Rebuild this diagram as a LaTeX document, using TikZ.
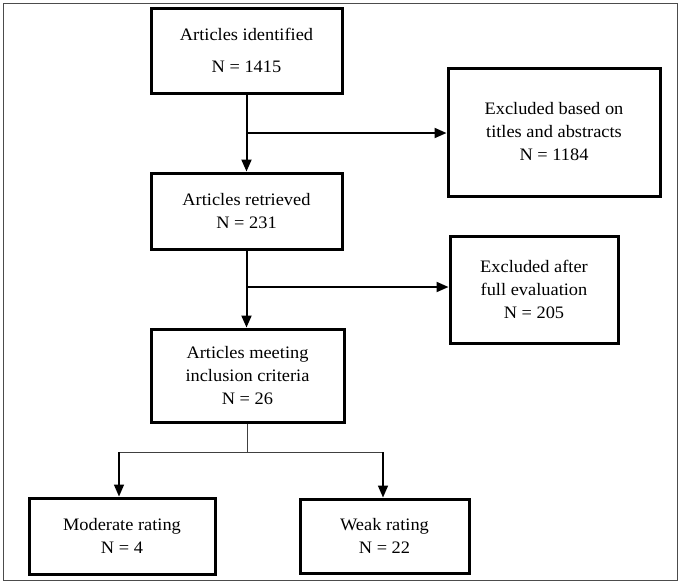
\documentclass[tikz,border=0pt]{standalone}
\usepackage{fontspec}
\setmainfont{Liberation Serif}[FakeStretch=1.05]
\usetikzlibrary{arrows.meta}
\begin{document}
\begin{tikzpicture}[x=1pt,y=-1pt,
  box/.style={draw, line width=3pt, rectangle, align=center, inner sep=0pt,
    font=\fontsize{17.5}{23}\selectfont},
  arr/.style={line width=2pt, -{Triangle[length=12pt,width=10pt]}},
  thinarr/.style={line width=1.6pt, -{Triangle[length=12pt,width=10pt]}},
  thinline/.style={line width=1pt, draw=black!75}]
\useasboundingbox (0,0) rectangle (679,582);
\draw[line width=0.8pt, draw=black!70] (3,3) rectangle (677,580);

\node[box, minimum width=191pt, minimum height=85pt] (b1) at (246.5,50.5)
  {Articles identified\\[9pt] N = 1415};
\node[box, minimum width=212pt, minimum height=128pt] (b3) at (554,132)
  {Excluded based on\\ titles and abstracts\\ N = 1184};
\node[box, minimum width=191pt, minimum height=76pt] (b2) at (246.5,211)
  {Articles retrieved\\ N = 231};
\node[box, minimum width=168pt, minimum height=107pt] (b4) at (534,289.5)
  {Excluded after\\ full evaluation\\ N = 205};
\node[box, minimum width=193pt, minimum height=93pt] (b5) at (247.5,375.5)
  {Articles meeting\\ inclusion criteria\\ N = 26};
\node[box, minimum width=186pt, minimum height=76pt] (b6) at (122,536)
  {Moderate rating\\ N = 4};
\node[box, minimum width=169pt, minimum height=74pt] (b7) at (384.5,536)
  {Weak rating\\ N = 22};

\coordinate (j1) at (246.5,133);
\coordinate (j2) at (246.5,287);
\coordinate (j3) at (247.5,452);
\coordinate (l6) at (119,452);
\coordinate (l7) at (383,452);

\draw[arr] (b1.south) -- (b2.north);
\draw[arr] (j1) -- (j1 -| b3.west);
\draw[arr] (b2.south) -- (b2.south |- b5.north);
\draw[arr] (j2) -- (j2 -| b4.west);
\draw[thinline] (b5.south) -- (j3);
\draw[thinline] (l6) -- (l7);
\draw[thinarr] (l6) -- (l6 |- b6.north);
\draw[thinarr] (l7) -- (l7 |- b7.north);
\end{tikzpicture}
\end{document}
